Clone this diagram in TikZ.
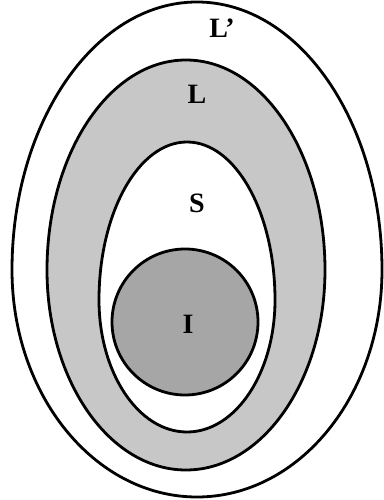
\documentclass[tikz,border=0pt]{standalone}
\usepackage{fontspec}
\setmainfont{Liberation Serif}
\tikzset{
  region/.style={line width=2.8pt, draw=black},
  setlabel/.style={font=\fontsize{28}{30}\selectfont\bfseries, inner sep=0pt}
}
\begin{document}
\begin{tikzpicture}[x=1pt,y=1pt]
            \useasboundingbox (0,0) rectangle (383,500);

            % outer region L'
            \draw[region, fill=white] (12,230) arc[start angle=180, end angle=0,
            x radius=185, y radius=268] arc[start angle=0, end angle=-180,
            x radius=185, y radius=227] -- cycle;

            % shaded region L
            \draw[region, fill=black!22] (47,230) arc[start angle=180, end
            angle=0, x radius=139, y radius=210] arc[start angle=0, end
            angle=-180, x radius=139, y radius=200] -- cycle;

            % inner region S
            \draw[region, fill=white] (99,200) arc[start angle=180, end angle=0,
            x radius=88, y radius=158] arc[start angle=0, end angle=-180,
            x radius=88, y radius=132] -- cycle;

            % core I
            \draw[region, fill=black!35] (185,178) circle (73);

            \node[setlabel] (lp) at (222,472) {L'}; \node[setlabel] (l) at
            (197,406) {L}; \node[setlabel] (s) at (197,297) {S};
            \node[setlabel] (i) at (188,176) {I};
        \end{tikzpicture}
\end{document}
